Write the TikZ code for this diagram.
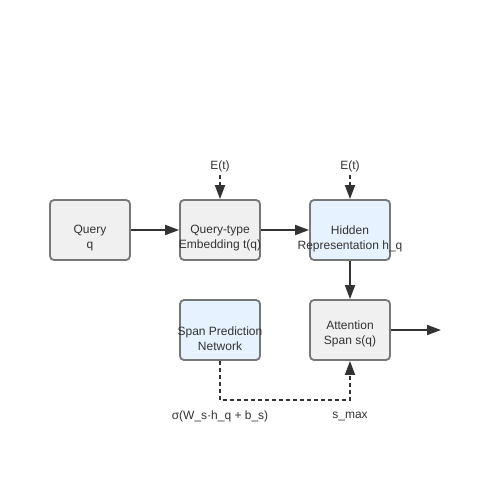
\documentclass[tikz,border=0pt]{standalone}
\usepackage{fontspec}
\setmainfont{Liberation Sans}
\usetikzlibrary{arrows.meta}
\definecolor{boxgray}{HTML}{F0F0F0}
\definecolor{boxblue}{HTML}{E6F2FF}
\definecolor{boxborder}{HTML}{777777}
\definecolor{linecol}{HTML}{333333}
\begin{document}
\begin{tikzpicture}[x=1pt,y=-1pt,
  box/.style={draw=boxborder,line width=1.8pt,rounded corners=4pt,minimum width=80pt,minimum height=60pt,inner sep=0pt},
  graybox/.style={box,fill=boxgray},
  bluebox/.style={box,fill=boxblue},
  txt/.style={align=center,font=\fontsize{12}{15}\selectfont,text=linecol,inner sep=0pt},
  lbl/.style={font=\fontsize{12}{15}\selectfont,text=linecol,inner sep=0pt},
  conn/.style={draw=linecol,line width=1.8pt,-{Triangle[length=14pt,width=10pt]}},
  dconn/.style={conn,dashed,dash pattern=on 4pt off 3pt}]
\useasboundingbox (0,0) rectangle (500,500);
\node[graybox] (q) at (90,230) {};
\node[graybox] (t) at (220,230) {};
\node[bluebox] (h) at (350,230) {};
\node[bluebox] (sp) at (220,330) {};
\node[graybox] (a) at (350,330) {};
\node[txt] (qt) at (90,238.5) {Query\\q};
\node[txt] (tt) at (220,238.5) {Query-type\\Embedding t(q)};
\node[txt] (ht) at (350,238.5) {Hidden\\Representation h\_q};
\node[txt] (spt) at (220,338.5) {Span Prediction\\Network};
\node[txt] (at) at (350,333.5) {Attention\\Span s(q)};
\node[lbl] (e1) at (220,166) {E(t)};
\node[lbl] (e2) at (350,166) {E(t)};
\node[lbl] (sig) at (220,416) {σ(W\_s·h\_q + b\_s)};
\node[lbl] (smax) at (350,416) {s\_max};
\coordinate (out) at (441,330);
\coordinate (c1) at (220,400);
\coordinate (c2) at (350,400);
\draw[conn] (q) -- (t);
\draw[conn] (t) -- (h);
\draw[conn] (h) -- (a);
\draw[conn] (a.east) -- (out);
\draw[dconn] (e1.south) ++(0,3) -- (t.north);
\draw[dconn] (e2.south) ++(0,3) -- (h.north);
\draw[dconn] (sp.south) -- (c1) -- (c2) -- (a.south);
\end{tikzpicture}
\end{document}
